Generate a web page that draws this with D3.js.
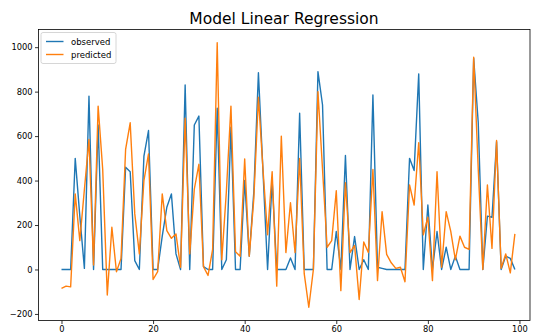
<!DOCTYPE html>
<html>
<head>
<meta charset="utf-8">
<script src="https://cdn.jsdelivr.net/npm/d3@7"></script>
<style>
  html, body { margin: 0; padding: 0; background: #fff; }
  svg { display: block; font-family: "DejaVu Sans", sans-serif; }
</style>
</head>
<body>
<svg id="chart" width="535" height="336"></svg>
<script>
const titleText = "Model Linear Regression";
const seriesNames = ["observed", "predicted"];
const seriesColors = ["#1f77b4", "#ff7f0e"];
const xTicks = [0, 20, 40, 60, 80, 100];
const yTicks = [-200, 0, 200, 400, 600, 800, 1000];

const observed = [
  0, 0, 0, 500, 240, 5, 780, 0, 650, 0,
  0, 0, 0, 0, 460, 440, 40, 0, 510, 625,
  0, 0, 150, 280, 340, 70, 0, 830, 0, 650,
  690, 13, 0, 0, 725, 0, 44, 640, 0, 0,
  400, 60, 350, 885, 440, 0, 400, 0, 0, 0,
  52, 0, 703, 0, 0, 0, 890, 740, 0, 0,
  171, 0, 513, 0, 148, 0, 44, 0, 785, 10,
  5, 0, 0, 0, 0, 0, 500, 445, 880, 0,
  290, 0, 171, 0, 100, 0, 60, 0, 0, 0,
  950, 660, 0, 240, 235, 575, 0, 60, 50, 0
];
const predicted = [
  -85, -75, -78, 340, 130, 360, 585, 20, 735, 450,
  -115, 190, -10, 50, 540, 660, 250, 70, 400, 520,
  -45, -10, 340, 175, 140, 160, 10, 680, 70, 362,
  473, 13, -27, 90, 1020, 44, 350, 735, 80, 60,
  497, 60, 320, 775, 450, 156, 440, -75, 600, 76,
  300, 76, 500, -19, -170, 0, 800, 450, 100, 130,
  354, -95, 390, 76, 108, -135, 124, 76, 450, -50,
  260, 68, 30, 5, 10, -55, 380, 290, 570, 156,
  235, -50, 440, 10, 260, 171, 44, 150, 100, 90,
  955, 450, 0, 380, 95, 580, 5, 70, -15, 160
];

const svg = d3.select("#chart");
const W = 535, H = 336;
const m = { left: 38.5, right: 5, top: 29.5, bottom: 15.5 };
const pw = W - m.left - m.right, ph = H - m.top - m.bottom;

const n = observed.length;
const allVals = observed.concat(predicted);
const yMin = d3.min(allVals), yMax = d3.max(allVals);
const yPad = (yMax - yMin) * 0.05;

const x = d3.scaleLinear().domain([-5.02, 102.3]).range([m.left, m.left + pw]);
const y = d3.scaleLinear().domain([yMin - yPad, yMax + yPad]).range([m.top + ph, m.top]);

svg.append("rect").attr("width", W).attr("height", H).attr("fill", "#fff");

svg.append("text")
  .attr("x", 284).attr("y", 23.5)
  .attr("text-anchor", "middle")
  .attr("font-size", 15.5).attr("fill", "#000")
  .text(titleText);

const series = [observed, predicted];
const clipId = "plotclip";
svg.append("clipPath").attr("id", clipId).append("rect")
  .attr("x", m.left).attr("y", m.top).attr("width", pw).attr("height", ph);
const line = d3.line().x((d, i) => x(i)).y(d => y(d));
series.forEach((s, k) => {
  svg.append("path")
    .datum(s)
    .attr("clip-path", `url(#${clipId})`)
    .attr("fill", "none")
    .attr("stroke", seriesColors[k])
    .attr("stroke-width", 1.4)
    .attr("stroke-linejoin", "round")
    .attr("d", line);
});

const xAxis = d3.axisBottom(x).tickValues(xTicks).tickSize(3.5).tickPadding(2.5).tickFormat(d3.format("d"));
const yAxis = d3.axisLeft(y).tickValues(yTicks).tickSize(3.5).tickPadding(2.5)
  .tickFormat(d => d < 0 ? "\u2212" + Math.abs(d) : String(d));

const gx = svg.append("g").attr("transform", `translate(0,${m.top + ph})`).call(xAxis);
const gy = svg.append("g").attr("transform", `translate(${m.left},0)`).call(yAxis);
[gx, gy].forEach(g => {
  g.select(".domain").remove();
  g.selectAll(".tick line").attr("stroke", "#000").attr("stroke-width", 0.8);
  g.selectAll(".tick text").attr("font-size", 8.3).attr("fill", "#000")
    .attr("font-family", "DejaVu Sans, sans-serif");
});

svg.append("rect")
  .attr("x", m.left).attr("y", m.top).attr("width", pw).attr("height", ph)
  .attr("fill", "none").attr("stroke", "#000").attr("stroke-width", 0.8);

const lg = svg.append("g");
lg.append("rect")
  .attr("x", 41).attr("y", 32.5).attr("width", 75).attr("height", 31)
  .attr("rx", 2).attr("fill", "#fff").attr("fill-opacity", 0.8)
  .attr("stroke", "#ccc").attr("stroke-width", 0.8);
seriesNames.forEach((name, k) => {
  const yy = 41.5 + k * 13;
  lg.append("line").attr("x1", 46).attr("x2", 63.5).attr("y1", yy).attr("y2", yy)
    .attr("stroke", seriesColors[k]).attr("stroke-width", 1.4);
  lg.append("text").attr("x", 71).attr("y", yy + 3)
    .attr("font-size", 8.5).attr("fill", "#000").text(name);
});
</script>
</body>
</html>
